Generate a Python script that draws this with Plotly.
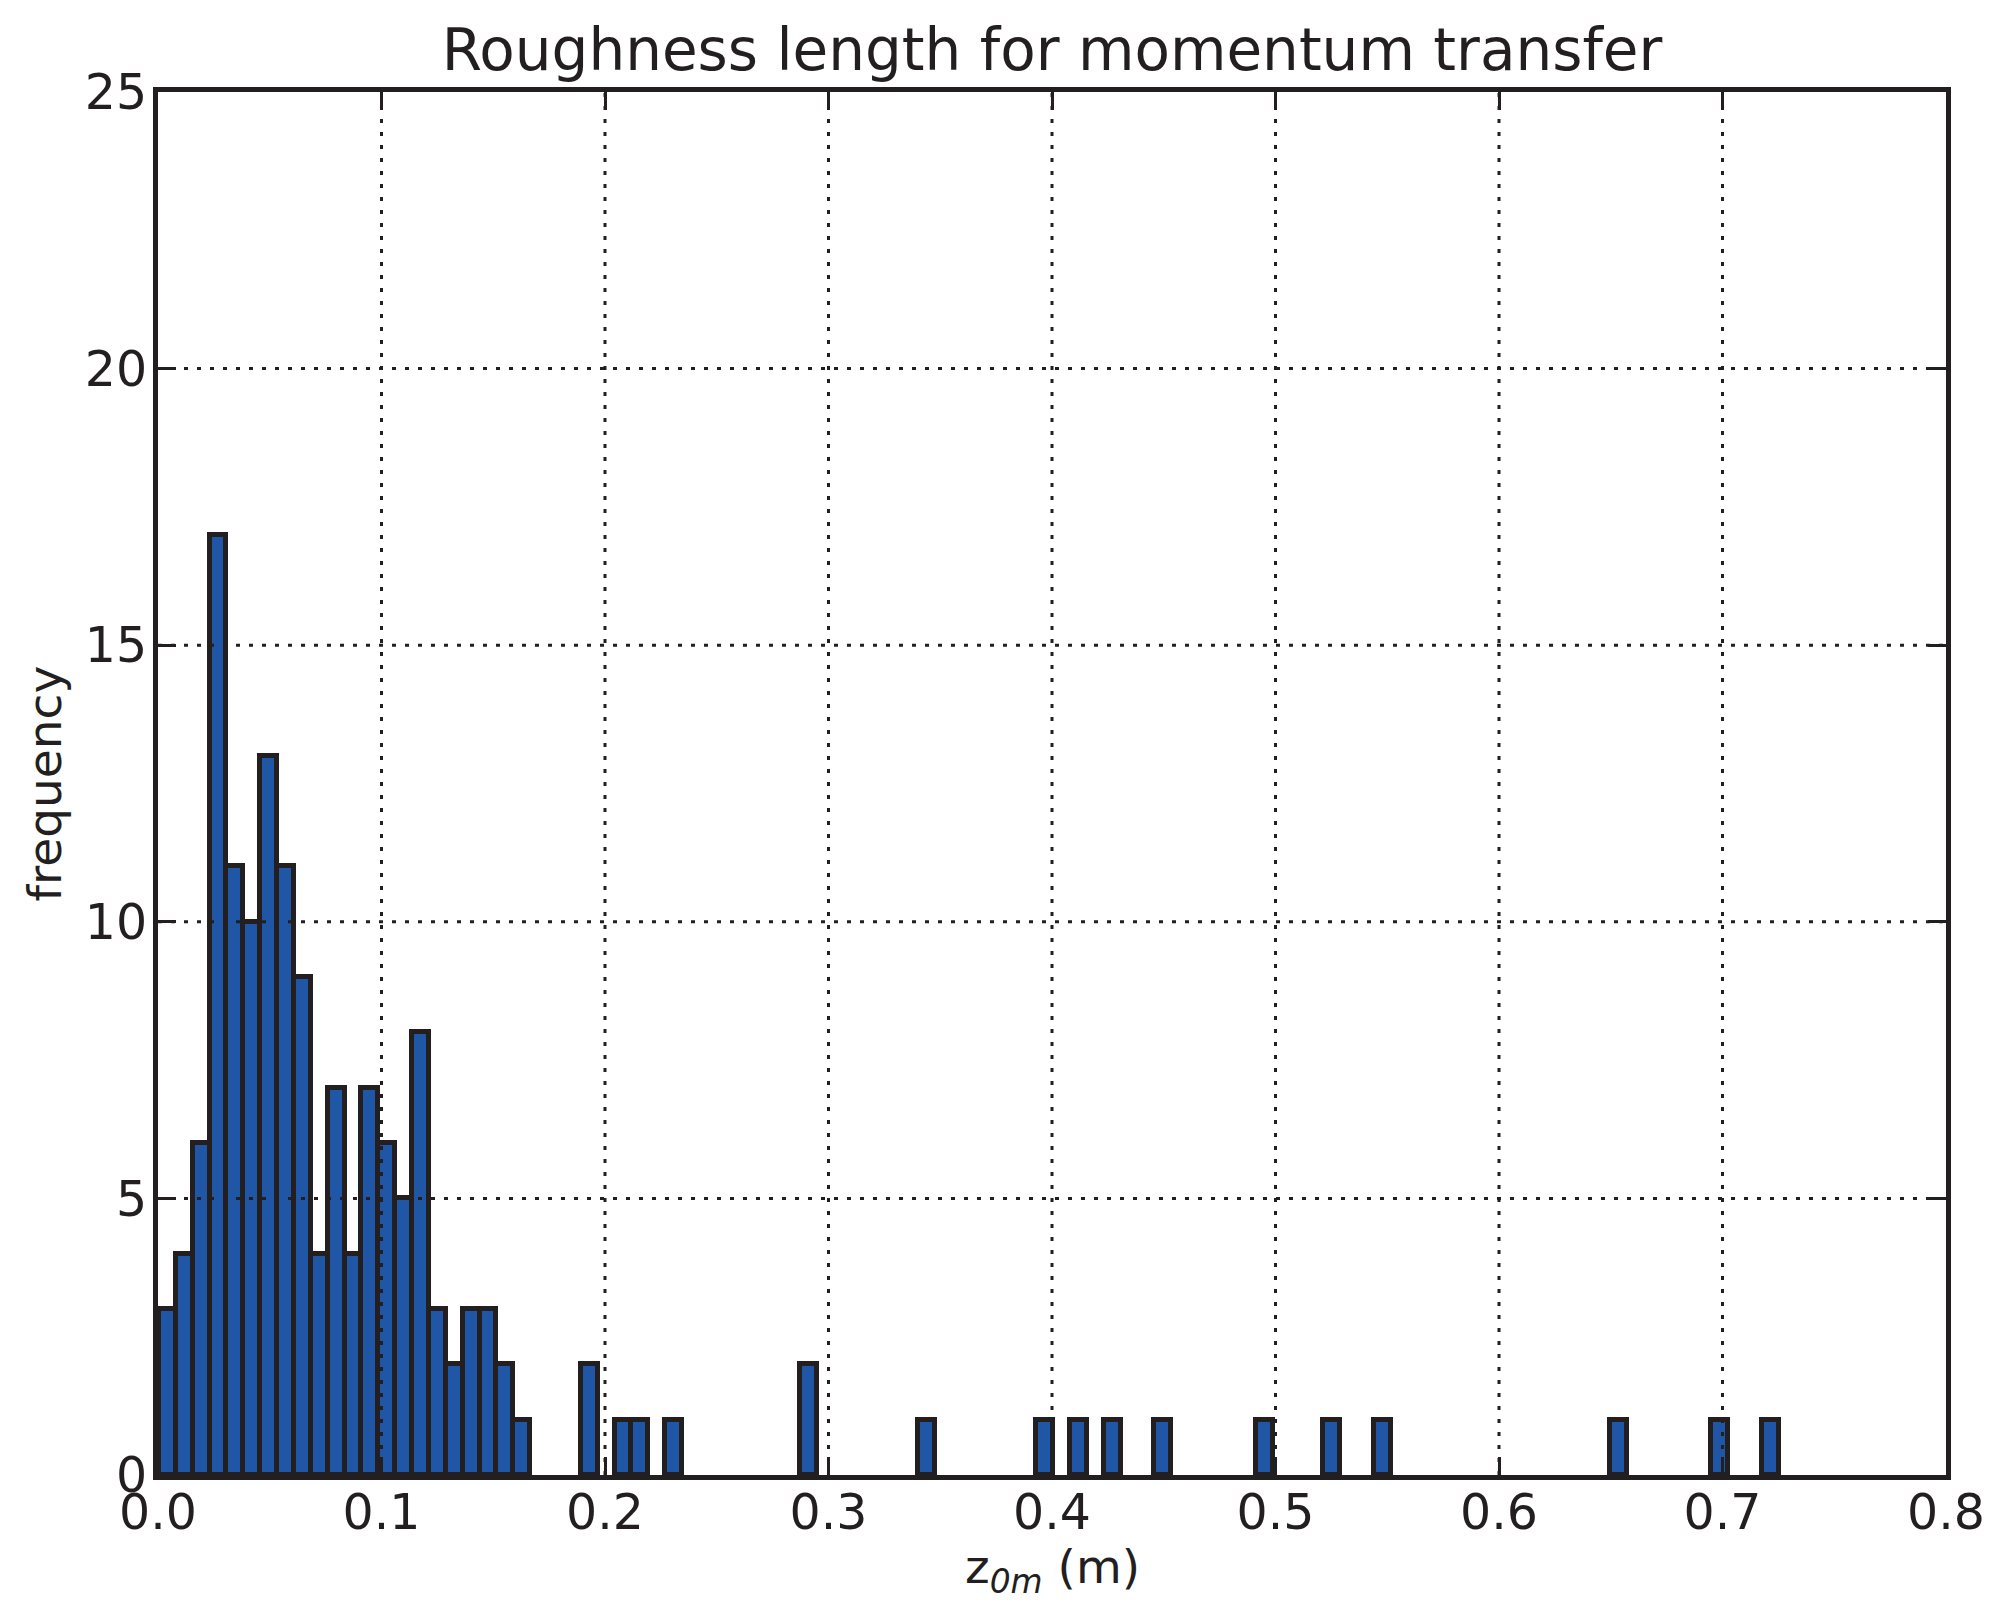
import plotly.graph_objects as go

# Histogram data
bin_start = 0.0004          # left edge of first bin (m)
bin_width = 0.00755         # bin width (m)
# contiguous head of the histogram (bins 0..21), then isolated bins further out
head_counts = [3, 4, 6, 17, 11, 10, 13, 11, 9, 4, 7, 4, 7, 6, 5, 8, 3, 2, 3, 3, 2, 1]
tail_bins = [25, 27, 28, 30, 38, 45, 52, 54, 56, 59, 65, 69, 72, 86, 92, 95]
tail_counts = [2, 1, 1, 1, 2, 1, 1, 1, 1, 1, 1, 1, 1, 1, 1, 1]

x_ticks = [0.0, 0.1, 0.2, 0.3, 0.4, 0.5, 0.6, 0.7, 0.8]
y_ticks = [0, 5, 10, 15, 20, 25]

title_text = "Roughness length for momentum transfer"
x_label = "z<sub><i>0m</i></sub> (m)"
y_label = "frequency"

bins = list(range(len(head_counts))) + tail_bins
counts = head_counts + tail_counts
centers = [bin_start + (b + 0.5) * bin_width for b in bins]

INK = "#231f20"
FONT = "DejaVu Sans"
OFF = 8                      # default page body margin
W, H = 2006 - OFF, 1620 - OFF
ML, MR, MT, MB = 150, 60, 84, 145

fig = go.Figure()
fig.add_trace(go.Bar(
    x=centers, y=counts, width=bin_width,
    marker=dict(color="#1f56a5", line=dict(color=INK, width=5)),
    showlegend=False,
))

shapes = []
for xv in x_ticks[1:-1]:
    shapes.append(dict(type="line", xref="x", yref="paper", x0=xv, x1=xv, y0=0, y1=1,
                       line=dict(color=INK, width=3, dash="4px,9px"), layer="above"))
for yv in y_ticks[1:-1]:
    shapes.append(dict(type="line", xref="paper", yref="y", x0=0, x1=1, y0=yv, y1=yv,
                       line=dict(color=INK, width=3, dash="4px,9px"), layer="above"))

axis_common = dict(
    showgrid=False, zeroline=False, showline=True, linecolor=INK, linewidth=5,
    mirror="ticks", ticks="inside", ticklen=18, tickwidth=3, tickcolor=INK,
    tickfont=dict(family=FONT, size=49, color=INK), layer="above traces",
    automargin=False,
)

plot_w = W - ML - MR
plot_h = H - MT - MB
annotations = [
    dict(text=x_label, xref="paper", yref="paper", x=0.5, xanchor="center",
         y=-(1562 - (H - MB)) / plot_h, yanchor="middle", showarrow=False,
         font=dict(family=FONT, size=47, color=INK)),
    dict(text=y_label, xref="paper", yref="paper", x=-(ML - 36) / plot_w,
         xanchor="center", y=0.5, yanchor="middle", textangle=-90, showarrow=False,
         font=dict(family=FONT, size=47, color=INK)),
]

fig.update_layout(
    width=W, height=H,
    paper_bgcolor="white", plot_bgcolor="white",
    margin=dict(l=ML, r=MR, t=MT, b=MB, autoexpand=False),
    font=dict(family=FONT, color=INK),
    title=dict(text=title_text, x=0.5, xref="paper", xanchor="center",
               y=1 - 41.5 / H, yanchor="middle",
               font=dict(family=FONT, size=58, color=INK)),
    xaxis=dict(range=[0, 0.8], tickvals=x_ticks, tickformat=".1f",
               ticklabelstandoff=-10, **axis_common),
    yaxis=dict(range=[0, 25], tickvals=y_ticks, ticklabelstandoff=-4, **axis_common),
    shapes=shapes,
    annotations=annotations,
    bargap=0,
)

fig.write_html("out.html")
